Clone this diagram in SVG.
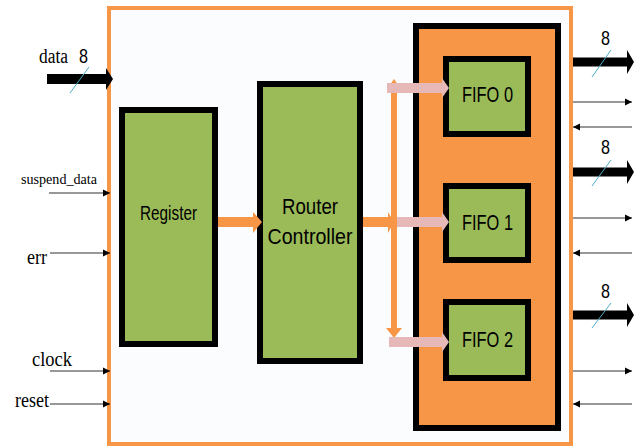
<svg xmlns="http://www.w3.org/2000/svg" width="643" height="447" viewBox="0 0 643 447">
<defs>
<style>
.blk{fill:#9BBB59;stroke:#000;stroke-width:6}
.lbl{font-family:"Liberation Sans",Arial,sans-serif;fill:#000;text-anchor:middle}
.sig{font-family:"Liberation Serif","Times New Roman",serif;fill:#000}
.num{font-family:"Liberation Sans",Arial,sans-serif;fill:#000;font-size:20px}
.thin{stroke:#333;stroke-width:1.2;fill:none;marker-end:url(#ah)}
.slash{stroke:#4BACC6;stroke-width:1}
.bus{fill:#000}
.org{fill:#F79646}
.pink{fill:#E6B9B8}
</style>
<marker id="ah" markerUnits="userSpaceOnUse" markerWidth="8" markerHeight="8" refX="7" refY="4" orient="auto">
<path d="M0,0.5 L7,4 L0,7.5 z" fill="#000"/>
</marker>
</defs>
<rect width="643" height="447" fill="#fff"/>
<g id="frame">
<rect x="109" y="8" width="462" height="436" fill="#FBFCFE" stroke="#F79646" stroke-width="4"/>
</g>
<g id="register">
<rect class="blk" x="122" y="110" width="93" height="234"/>
<text class="lbl" x="168.5" y="220" font-size="21" textLength="57" lengthAdjust="spacingAndGlyphs">Register</text>
</g>
<g id="router">
<rect class="blk" x="260" y="84" width="100" height="277"/>
<text class="lbl" x="310" y="214" font-size="22" textLength="56" lengthAdjust="spacingAndGlyphs">Router</text>
<text class="lbl" x="310" y="244" font-size="22" textLength="85" lengthAdjust="spacingAndGlyphs">Controller</text>
</g>
<g id="fifo-block">
<rect x="416" y="26" width="142" height="402" fill="#F79646" stroke="#000" stroke-width="6"/>
</g>
<g id="fifo0">
<rect class="blk" x="446" y="59" width="82" height="75"/>
<text class="lbl" x="487.5" y="102" font-size="22.5" textLength="51" lengthAdjust="spacingAndGlyphs">FIFO 0</text>
</g>
<g id="fifo1">
<rect class="blk" x="446" y="186" width="82" height="74"/>
<text class="lbl" x="487.5" y="230" font-size="22.5" textLength="51" lengthAdjust="spacingAndGlyphs">FIFO 1</text>
</g>
<g id="fifo2">
<rect class="blk" x="446" y="302" width="82" height="76"/>
<text class="lbl" x="487.5" y="347" font-size="22.5" textLength="51" lengthAdjust="spacingAndGlyphs">FIFO 2</text>
</g>
<g id="connectors">
<polygon class="org" points="218,217 253,217 253,212 262,222 253,233 253,227 218,227"/>
<polygon class="org" points="363,217 388,217 388,212 394,222 388,233 388,227 363,227"/>
<rect class="org" x="391" y="88" width="6" height="241"/>
<polygon class="org" points="387,89 394,79 401,89"/>
<polygon class="org" points="386,328 402,328 394,338"/>
<polygon class="pink" points="387,83 442,83 442,78 449,88 442,98 442,93 387,93"/>
<polygon class="pink" points="397,217 442,217 442,212 449,222 442,232 442,227 397,227"/>
<polygon class="pink" points="389,337 442,337 442,332 449,342 442,352 442,347 389,347"/>
<polygon class="bus" points="47,74 106,74 106,68 113,79 106,90 106,84 47,84"/>
<line class="slash" x1="70" y1="93" x2="89" y2="67"/>
<line class="thin" x1="49" y1="193" x2="110" y2="193"/>
<line class="thin" x1="50" y1="253" x2="110" y2="253"/>
<line class="thin" x1="50" y1="371" x2="110" y2="371"/>
<line class="thin" x1="50" y1="404" x2="110" y2="404"/>
<polygon class="bus" points="573,57.5 627,57.5 627,50 634,62 627,74 627,66.5 573,66.5"/>
<line class="slash" x1="592" y1="77" x2="611" y2="50"/>
<polygon class="bus" points="573,167.5 627,167.5 627,160 634,172 627,184 627,176.5 573,176.5"/>
<line class="slash" x1="592" y1="186" x2="611" y2="160"/>
<polygon class="bus" points="573,310.5 627,310.5 627,303 634,315 627,327 627,319.5 573,319.5"/>
<line class="slash" x1="592" y1="328" x2="611" y2="303"/>
<line class="thin" x1="573" y1="102" x2="632" y2="102"/>
<line class="thin" x1="632" y1="127" x2="573" y2="127"/>
<line class="thin" x1="573" y1="218" x2="632" y2="218"/>
<line class="thin" x1="632" y1="253" x2="573" y2="253"/>
<line class="thin" x1="573" y1="371" x2="632" y2="371"/>
<line class="thin" x1="632" y1="404" x2="573" y2="404"/>
</g>
<g id="labels">
<text class="sig" x="39" y="63" font-size="20" textLength="29" lengthAdjust="spacingAndGlyphs">data</text>
<text class="num" x="79" y="63" font-size="19" textLength="9" lengthAdjust="spacingAndGlyphs">8</text>
<text class="sig" x="21" y="184" font-size="15" textLength="76" lengthAdjust="spacingAndGlyphs">suspend_data</text>
<text class="sig" x="27" y="264" font-size="21" textLength="20" lengthAdjust="spacingAndGlyphs">err</text>
<text class="sig" x="32" y="366" font-size="21" textLength="40" lengthAdjust="spacingAndGlyphs">clock</text>
<text class="sig" x="15" y="407" font-size="21" textLength="34" lengthAdjust="spacingAndGlyphs">reset</text>
<text class="num" x="601" y="45" font-size="21" textLength="9" lengthAdjust="spacingAndGlyphs">8</text>
<text class="num" x="601" y="154" font-size="21" textLength="9" lengthAdjust="spacingAndGlyphs">8</text>
<text class="num" x="601" y="298" font-size="21" textLength="9" lengthAdjust="spacingAndGlyphs">8</text>
</g>
</svg>
